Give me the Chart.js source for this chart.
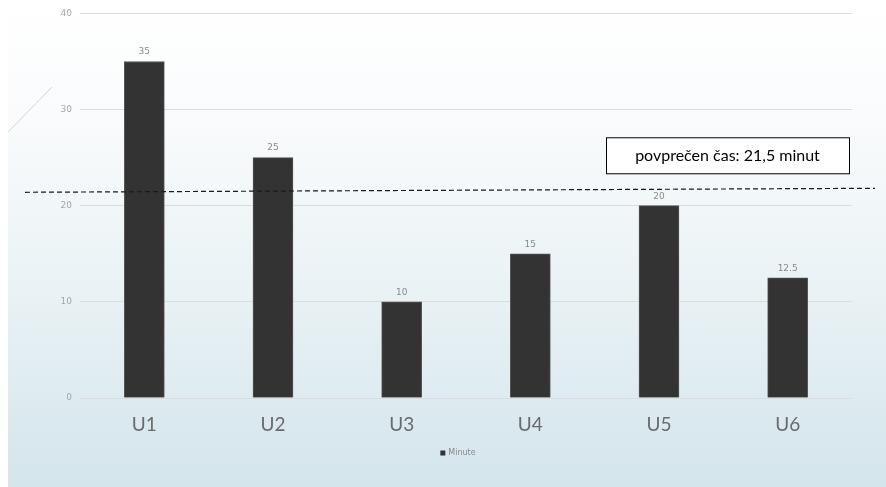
<!DOCTYPE html>
<html>
<head>
<meta charset="utf-8">
<script src="https://cdn.jsdelivr.net/npm/chart.js@4.4.1/dist/chart.umd.min.js"></script>
<style>
  html,body{margin:0;padding:0;background:#ffffff;}
  #wrap{width:886px;height:487px;position:relative;}
</style>
</head>
<body>
<div id="wrap"><canvas id="c" width="886" height="487"></canvas></div>
<script>
const categories = ['U1','U2','U3','U4','U5','U6'];
const minutes = [35, 25, 10, 15, 20, 12.5];
const seriesName = 'Minute';
const averageValue = 21.5;
const averageLabel = 'povprečen čas: 21,5 minut';
const yTicks = [0, 10, 20, 30, 40];

const bgPlugin = {
  id: 'bg',
  beforeDraw(chart) {
    const ctx = chart.ctx;
    const h = chart.height, w = chart.width;
    ctx.save();
    ctx.fillStyle = '#ffffff';
    ctx.fillRect(0, 0, w, h);
    const g = ctx.createLinearGradient(0, 0, 0, h);
    g.addColorStop(0, '#ffffff');
    g.addColorStop(0.25, '#f9fbfc');
    g.addColorStop(0.6, '#e9f2f5');
    g.addColorStop(1, '#d4e5ec');
    ctx.fillStyle = g;
    ctx.fillRect(8, 0, w - 8, h);
    ctx.strokeStyle = '#d0d6d9';
    ctx.lineWidth = 1;
    ctx.beginPath();
    ctx.moveTo(8, 132);
    ctx.lineTo(52, 87);
    ctx.stroke();
    ctx.restore();
  }
};

const overlayPlugin = {
  id: 'overlay',
  afterDatasetsDraw(chart) {
    const ctx = chart.ctx;
    const meta = chart.getDatasetMeta(0);
    const ds = chart.data.datasets[0];
    ctx.save();
    ctx.fillStyle = '#8a8a8a';
    ctx.font = '9px "DejaVu Sans", sans-serif';
    ctx.textAlign = 'center';
    ctx.textBaseline = 'bottom';
    meta.data.forEach((bar, i) => {
      ctx.fillText(String(ds.data[i]), bar.x, bar.y - 5);
    });
    const y = chart.scales.y.getPixelForValue(averageValue);
    ctx.strokeStyle = '#1a1a1a';
    ctx.lineWidth = 1.2;
    ctx.setLineDash([5, 3]);
    ctx.beginPath();
    ctx.moveTo(25, y + 1);
    ctx.lineTo(chart.width - 11, y - 3);
    ctx.stroke();
    ctx.setLineDash([]);
    const ca = chart.chartArea;
    const bw = 243, bh = 36;
    const bx = ca.right - 3 - bw;
    const by = y - 18 - bh;
    ctx.fillStyle = '#ffffff';
    ctx.fillRect(bx, by, bw, bh);
    ctx.strokeStyle = '#000000';
    ctx.lineWidth = 1;
    ctx.strokeRect(bx + 0.5, by + 0.5, bw, bh);
    ctx.fillStyle = '#000000';
    ctx.font = '16px Lato, "Liberation Sans", sans-serif';
    ctx.textAlign = 'center';
    ctx.textBaseline = 'middle';
    ctx.fillText(averageLabel, bx + bw / 2, by + bh / 2 + 1);
    // legend
    ctx.font = '8px "DejaVu Sans", sans-serif';
    const tw = ctx.measureText(seriesName).width;
    const total = 5 + 3 + tw;
    const lx = (ca.left + ca.right) / 2 - 8 - total / 2;
    const ly = ca.bottom + 55;
    ctx.fillStyle = '#333333';
    ctx.fillRect(lx, ly - 2.5, 5, 5);
    ctx.fillStyle = '#8a8a8a';
    ctx.textAlign = 'left';
    ctx.fillText(seriesName, lx + 8, ly);
    ctx.restore();
  }
};

new Chart(document.getElementById('c'), {
  type: 'bar',
  data: {
    labels: categories,
    datasets: [{
      label: seriesName,
      data: minutes,
      backgroundColor: '#333333',
      borderColor: '#555555',
      borderWidth: 1,
      barThickness: 40
    }]
  },
  options: {
    responsive: false,
    animation: false,
    events: [],
    layout: { padding: { left: 0, right: 34, top: 8, bottom: 46 } },
    plugins: {
      legend: { display: false },
      tooltip: { enabled: false }
    },
    scales: {
      x: {
        grid: { display: false, drawTicks: false },
        border: { display: false },
        ticks: {
          color: '#6a6a6a',
          font: { size: 19, family: 'Lato' },
          padding: 15
        },
        afterFit(s) { s.height = 43; }
      },
      y: {
        min: 0,
        max: 40,
        afterBuildTicks(s) { s.ticks = yTicks.map(v => ({ value: v })); },
        grid: { color: '#dcdcdc', lineWidth: 1, drawTicks: false },
        border: { display: false },
        ticks: {
          color: '#a6a6a6',
          font: { size: 9, family: 'DejaVu Sans' },
          padding: 8
        },
        afterFit(s) { s.width = 80; }
      }
    }
  },
  plugins: [bgPlugin, overlayPlugin]
});
</script>
</body>
</html>
